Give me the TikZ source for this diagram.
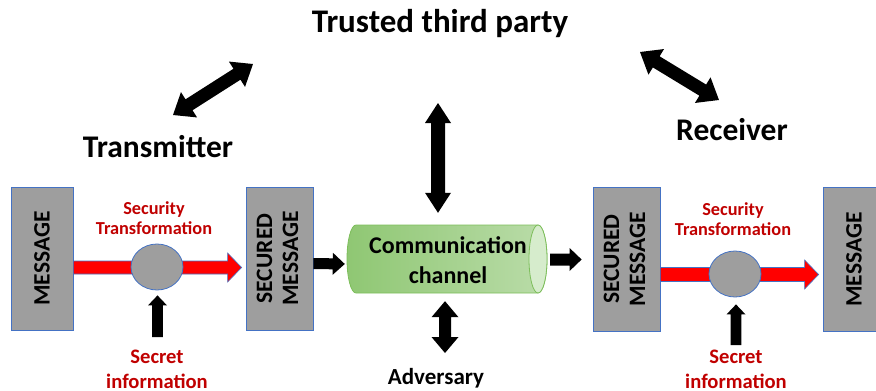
\documentclass[tikz,border=0pt]{standalone}
\usepackage{fontspec}
\setmainfont{Carlito}
\usetikzlibrary{calc,shapes.geometric}

\definecolor{boxgray}{HTML}{9E9E9E}
\definecolor{edgeblue}{HTML}{4472C4}
\definecolor{secred}{HTML}{C00000}
\definecolor{arrred}{HTML}{FF0000}
\definecolor{chanleft}{HTML}{8FC773}
\definecolor{chanright}{HTML}{BADCA9}
\definecolor{chanend}{HTML}{D6ECCC}
\definecolor{chanedge}{HTML}{7DBE5B}

% Block arrow from #2 to #3: shaft half-width #4, head half-width #5, head length #6
\newcommand\blockarrow[6][]{%
  \path[#1] let \p1=(#2), \p2=(#3),
    \n1={veclen(\x2-\x1,\y2-\y1)}, \n2={atan2(\y2-\y1,\x2-\x1)} in
    [shift={(\p1)}, rotate=\n2]
    (0,#4) -- ({\n1-#6},#4) -- ({\n1-#6},#5) -- ({\n1},0)
    -- ({\n1-#6},-#5) -- ({\n1-#6},-#4) -- (0,-#4) -- cycle;}
% Double-headed block arrow between #2 and #3
\newcommand\dblarrow[6][]{%
  \path[#1] let \p1=(#2), \p2=(#3),
    \n1={veclen(\x2-\x1,\y2-\y1)}, \n2={atan2(\y2-\y1,\x2-\x1)} in
    [shift={(\p1)}, rotate=\n2]
    (#6,#4) -- ({\n1-#6},#4) -- ({\n1-#6},#5) -- ({\n1},0)
    -- ({\n1-#6},-#5) -- ({\n1-#6},-#4) -- (#6,-#4) -- (#6,-#5)
    -- (0,0) -- (#6,#5) -- cycle;}

\tikzset{
  msgbox/.style={draw=edgeblue, line width=0.8pt, fill=boxgray, inner sep=0pt,
    minimum height=143pt, font=\bfseries\fontsize{23.5}{28}\selectfont},
  joint/.style={ellipse, draw=edgeblue, line width=0.8pt, fill=boxgray,
    minimum width=52pt, minimum height=46pt, inner sep=0pt},
  heading/.style={anchor=base, font=\bfseries\fontsize{31.5}{36}\selectfont},
  redlabel/.style={align=center, text=secred, font=\bfseries\fontsize{18.3}{20}\selectfont},
  keylabel/.style={align=center, text=secred, font=\bfseries\fontsize{20.6}{25}\selectfont},
  blackarr/.style={fill=black},
  redarr/.style={fill=arrred, draw=edgeblue, line width=0.6pt},
}

\begin{document}
\begin{tikzpicture}[x=1pt, y=-1pt]
\useasboundingbox (0,0) rectangle (876,391);

% headings
\node[heading, font=\bfseries\fontsize{33}{38}\selectfont] (ttp) at (440,32) {Trusted third party};
\node[heading] (tx) at (158,157) {Transmitter};
\node[heading] (rx) at (732,140) {Receiver};

% message boxes
\node[msgbox, minimum width=62pt] (msgL) at (42,258.5) {\rotatebox{90}{MESSAGE}};
\node[msgbox, minimum width=67pt] (smL) at (279.5,258.5)
  {\rotatebox{90}{\begin{tabular}{@{}c@{}}SECURED\\[-2pt]MESSAGE\end{tabular}}};
\node[msgbox, minimum width=67pt, minimum height=144pt] (smR) at (626.5,259)
  {\rotatebox{90}{\begin{tabular}{@{}c@{}}SECURED\\[-2pt]MESSAGE\end{tabular}}};
\node[msgbox, minimum width=62pt, minimum height=144pt] (msgR) at (854,259.5) {\rotatebox{90}{MESSAGE}};

% transformation points
\coordinate (cLc) at (157,267.5);
\coordinate (cRc) at (735,274.5);
\blockarrow[redarr]{msgL.east |- cLc}{$(smL.west |- cLc)+(-4,0)$}{6.5}{14.5}{14}
\blockarrow[redarr]{smR.east |- cRc}{$(msgR.west |- cRc)+(-4,0)$}{7}{14.5}{14}
\node[joint] (cL) at (157,267) {};
\node[joint] (cR) at (735,274) {};

\node[redlabel] (stL) at (154,218) {Security\\Transformation};
\node[redlabel] (stR) at (733,219) {Security\\Transformation};

% secret information inputs
\node[keylabel] (skL) at (157,369) {Secret\\information};
\node[keylabel] (skR) at (736,369) {Secret\\information};
\coordinate (upLtail) at (157.5,337);
\coordinate (upRtail) at (736,345);
\blockarrow[blackarr]{upLtail}{$(cL.south)+(0.5,5)$}{5.3}{9.5}{10}
\blockarrow[blackarr]{upRtail}{$(cR.south)+(1,7)$}{5.3}{9.5}{10}

% communication channel (cylinder)
\node[minimum width=200pt, minimum height=68pt, inner sep=0pt] (chan) at (447,259) {};
\shade[left color=chanleft, right color=chanright, draw=chanedge, line width=0.8pt]
  (538,225) -- (356,225) arc[start angle=270, end angle=90, x radius=9, y radius=34]
  -- (538,293) arc[start angle=90, end angle=-90, x radius=9, y radius=34] -- cycle;
\draw[fill=chanend, draw=chanedge, line width=0.8pt] (538,259) ellipse[x radius=9, y radius=34];
\node[align=center, font=\bfseries\fontsize{24}{30}\selectfont] (chantext) at (448,260)
  {Communication\\channel};

\blockarrow[blackarr]{$(smL.east)+(0,5)$}{$(chan.west)+(-2,5)$}{5.5}{11}{12}
\blockarrow[blackarr]{$(chan.east)+(3,0.5)$}{$(smR.west)+(-11,0.5)$}{6}{11.5}{12}

% trusted third party and adversary links
\node[font=\bfseries\fontsize{23}{26}\selectfont] (adv) at (436,378) {Adversary};
\coordinate (ttpLink) at (438,103);
\dblarrow[blackarr]{ttpLink}{$(chan.north)+(-9,-12)$}{7}{13}{20}
\coordinate (advLink) at (445,353);
\dblarrow[blackarr]{$(chan.south)+(-2,8)$}{advLink}{6}{13.5}{16}

\coordinate (txLink) at (173,115);
\coordinate (ttpLinkL) at (253,64);
\dblarrow[blackarr]{txLink}{ttpLinkL}{6.5}{15}{19}
\coordinate (ttpLinkR) at (640,52);
\coordinate (rxLink) at (719,100);
\dblarrow[blackarr]{ttpLinkR}{rxLink}{6.5}{15}{19}
\end{tikzpicture}
\end{document}
